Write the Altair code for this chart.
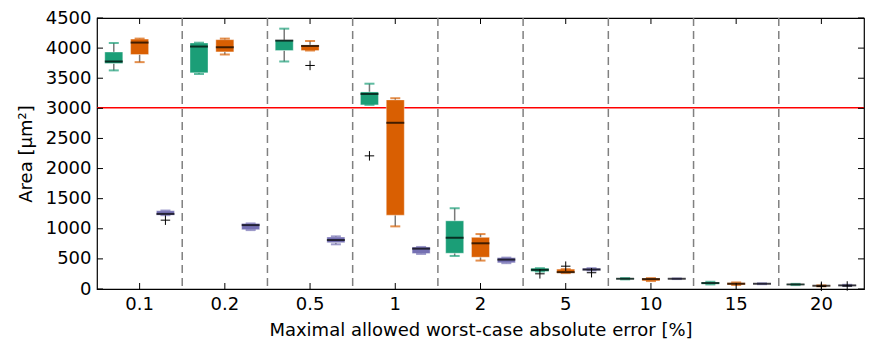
import altair as alt
import pandas as pd

cats = ["0.1", "0.2", "0.5", "1", "2", "5", "10", "15", "20"]
series = ["s1", "s2", "s3"]
colors = ["#1b9e77", "#d95f02", "#7570b3"]

# per series: lower whisker, q1, median, q3, upper whisker (one value per category)
s1_lo = [3630, 3570, 3778, 3057, 549, 290, 160, 76, 65]
s1_q1 = [3745, 3590, 3960, 3057, 594, 290, 162, 80, 68]
s1_md = [3778, 4026, 4125, 3239, 851, 318, 170, 99, 76]
s1_q3 = [3935, 4085, 4135, 3272, 1132, 346, 180, 115, 82]
s1_hi = [4085, 4090, 4323, 3409, 1341, 346, 182, 120, 85]

s2_lo = [3767, 3894, 3960, 1040, 472, 264, 132, 66, 45]
s2_q1 = [3894, 3937, 3960, 1226, 528, 264, 135, 68, 48]
s2_md = [4092, 4014, 4036, 2760, 759, 280, 165, 87, 54]
s2_q3 = [4150, 4140, 4052, 3140, 858, 330, 180, 105, 58]
s2_hi = [4158, 4158, 4118, 3168, 912, 330, 181, 109, 60]

s3_lo = [1226, 978, 742, 582, 429, 307, 165, 80, 50]
s3_q1 = [1226, 985, 769, 590, 435, 307, 165, 80, 52]
s3_md = [1247, 1061, 813, 670, 488, 323, 170, 87, 60]
s3_q3 = [1300, 1089, 863, 698, 521, 346, 175, 95, 68]
s3_hi = [1303, 1089, 874, 698, 521, 346, 175, 95, 70]

out_cat = ["0.1", "0.5", "1", "5", "5", "5", "20", "20"]
out_ser = ["s3", "s2", "s1", "s1", "s2", "s3", "s2", "s3"]
out_val = [1143, 3712, 2211, 252, 379, 270, 45, 50]

threshold = [3010]
y_ticks = list(range(0, 4501, 500))

W, H = 767, 271

rows = []
for s, lo, q1, md, q3, hi in [
    ("s1", s1_lo, s1_q1, s1_md, s1_q3, s1_hi),
    ("s2", s2_lo, s2_q1, s2_md, s2_q3, s2_hi),
    ("s3", s3_lo, s3_q1, s3_md, s3_q3, s3_hi),
]:
    for i, c in enumerate(cats):
        rows.append(dict(cat=c, ser=s, lo=lo[i], q1=q1[i], md=md[i], q3=q3[i], hi=hi[i]))
df = pd.DataFrame(rows)
out_df = pd.DataFrame(dict(cat=out_cat, ser=out_ser, val=out_val))
sep_df = pd.DataFrame(dict(cat=cats[1:]))
cat_df = pd.DataFrame(dict(cat=cats))
yt_df = pd.DataFrame(dict(v=y_ticks))
thr_df = pd.DataFrame(dict(v=threshold))

xscale = alt.Scale(domain=cats, paddingInner=0, paddingOuter=0)
oscale = alt.Scale(domain=series, paddingInner=0, paddingOuter=0.15)
yscale = alt.Scale(domain=[0, 4500], nice=False)
cscale = alt.Scale(domain=series, range=colors)

xaxis = alt.Axis(title="Maximal allowed worst-case absolute error [%]",
                 labelAngle=0, ticks=False, domain=False, labelFontSize=18,
                 titleFontSize=18, labelColor="black", titleColor="black",
                 titleFontWeight="normal", labelPadding=6, titlePadding=8)
yaxis = alt.Axis(title="Area [μm²]", values=y_ticks, format="d", grid=False, ticks=False,
                 domain=False, labelFontSize=18, titleFontSize=18, labelColor="black",
                 titleColor="black", titleFontWeight="normal", labelPadding=6,
                 titlePadding=10)

X = alt.X("cat:N", scale=xscale, sort=cats, axis=xaxis)
XO = alt.XOffset("ser:N", scale=oscale, sort=series)


def Y(f):
    return alt.Y(f, scale=yscale, axis=yaxis)


base = alt.Chart(df)

boxes = base.mark_bar(width=18, stroke="white", strokeWidth=0.6, strokeOpacity=0.6).encode(
    x=X, xOffset=XO, y=Y("q1:Q"), y2="q3:Q",
    color=alt.Color("ser:N", scale=cscale, legend=None),
)
wlow = base.mark_rule(color="#7a7a7a", strokeWidth=1.5).encode(
    x=X, xOffset=XO, y=Y("lo:Q"), y2="q1:Q")
whigh = base.mark_rule(color="#7a7a7a", strokeWidth=1.5).encode(
    x=X, xOffset=XO, y=Y("q3:Q"), y2="hi:Q")
cap_lo = base.mark_tick(orient="horizontal", size=10, thickness=2).encode(
    x=X, xOffset=XO, y=Y("lo:Q"),
    color=alt.Color("ser:N", scale=cscale, legend=None))
cap_hi = base.mark_tick(orient="horizontal", size=10, thickness=2).encode(
    x=X, xOffset=XO, y=Y("hi:Q"),
    color=alt.Color("ser:N", scale=cscale, legend=None))
median = base.mark_tick(orient="horizontal", size=18, thickness=2, color="black").encode(
    x=X, xOffset=XO, y=Y("md:Q"))

outl = alt.Chart(out_df).mark_point(shape="M-1,0L1,0M0,-1L0,1", size=90, filled=False,
                                    color="black", strokeWidth=1, opacity=1).encode(
    x=X, xOffset=XO, y=Y("val:Q"))

seps = alt.Chart(sep_df).mark_rule(color="#808080", strokeWidth=1.5, strokeDash=[8, 5]).encode(
    x=alt.X("cat:N", scale=xscale, sort=cats, axis=xaxis, bandPosition=0))

thr = alt.Chart(thr_df).mark_rule(color="#ff0000", strokeWidth=1.5).encode(y=Y("v:Q"))

xt_top = alt.Chart(cat_df).mark_rule(color="black", strokeWidth=1).encode(
    x=X, y=alt.value(0), y2=alt.value(6))
xt_bot = alt.Chart(cat_df).mark_rule(color="black", strokeWidth=1).encode(
    x=X, y=alt.value(H - 6), y2=alt.value(H))
yt_l = alt.Chart(yt_df).mark_rule(color="black", strokeWidth=1).encode(
    y=Y("v:Q"), x=alt.value(0), x2=alt.value(6))
yt_r = alt.Chart(yt_df).mark_rule(color="black", strokeWidth=1).encode(
    y=Y("v:Q"), x=alt.value(W - 6), x2=alt.value(W))

chart = alt.layer(
    seps, thr, wlow, whigh, boxes, cap_lo, cap_hi, median, outl,
    xt_top, xt_bot, yt_l, yt_r
).properties(
    width=W, height=H,
    autosize=alt.AutoSizeParams(type="none"),
    padding={"left": 89, "top": 10, "right": 1, "bottom": 50},
).configure(
    font="DejaVu Sans",
).configure_view(
    stroke="black", strokeWidth=1.2,
)

chart.save("out.html", embed_options={"renderer": "svg", "actions": False})
